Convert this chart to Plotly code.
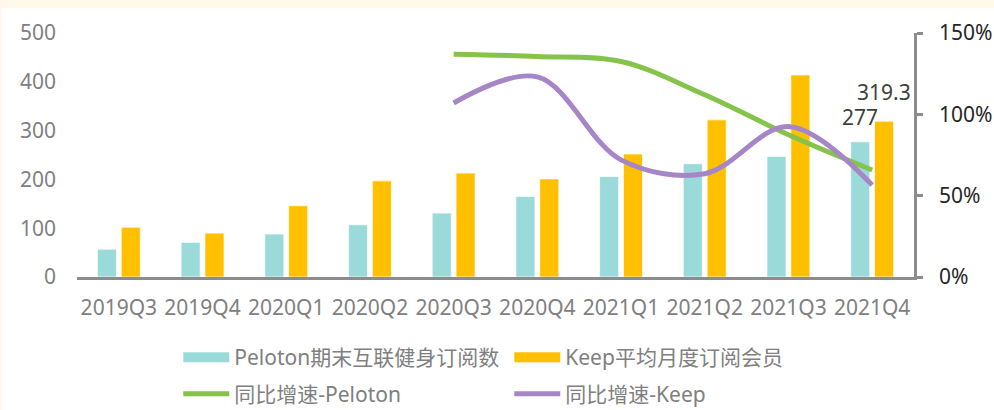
import plotly.graph_objects as go

# Quarterly categories
quarters = ["2019Q3", "2019Q4", "2020Q1", "2020Q2", "2020Q3",
            "2020Q4", "2021Q1", "2021Q2", "2021Q3", "2021Q4"]

# Subscriber counts (left axis)
peloton_subs = [57, 71, 88, 107, 131, 165, 206, 232, 247, 277]
keep_subs = [102, 90, 146, 197, 213, 201, 252, 322, 414, 319.3]

# Year-over-year growth (right axis, fraction)
peloton_yoy = [None, None, None, None, 1.37, 1.355, 1.325, 1.12, 0.875, 0.658]
keep_yoy = [None, None, None, None, 1.07, 1.23, 0.72, 0.635, 0.925, 0.565]

# Labelled values on the last quarter
labels = [("2021Q4", 277, -12, 10), ("2021Q4", 319.3, 12, 14)]

names = ["Peloton期末互联健身订阅数", "Keep平均月度订阅会员", "同比增速-Peloton", "同比增速-Keep"]
c_teal, c_gold, c_green, c_purple = "#9ADAD9", "#FFC000", "#86C34A", "#A686C7"

FONT = "Noto Sans, Noto Sans CJK SC, sans-serif"
GRAY = "#808080"
AXIS = "#8C8C8C"

fig = go.Figure()

fig.add_trace(go.Bar(x=quarters, y=peloton_subs, name=names[0], marker_color=c_teal,
                     marker_line=dict(width=1, color="rgba(255,255,255,0.7)"),
                     showlegend=False))
fig.add_trace(go.Bar(x=quarters, y=keep_subs, name=names[1], marker_color=c_gold,
                     marker_line=dict(width=1, color="rgba(255,255,255,0.7)"),
                     showlegend=False))

# Legend swatches for the bar series
fig.add_trace(go.Scatter(x=[None], y=[None], mode="lines", name=names[0],
                         line=dict(color=c_teal, width=13), legend="legend"))
fig.add_trace(go.Scatter(x=[None], y=[None], mode="lines", name=names[1],
                         line=dict(color=c_gold, width=13), legend="legend"))

fig.add_trace(go.Scatter(x=quarters, y=peloton_yoy, name=names[2], yaxis="y2",
                         mode="lines", line=dict(color=c_green, width=5, shape="spline", smoothing=1),
                         legend="legend2"))
fig.add_trace(go.Scatter(x=quarters, y=keep_yoy, name=names[3], yaxis="y2",
                         mode="lines", line=dict(color=c_purple, width=5, shape="spline", smoothing=1),
                         legend="legend2"))

for q, v, dx, dy in labels:
    fig.add_annotation(x=q, y=v, xref="x", yref="y", text=str(v), showarrow=False,
                       xshift=dx, yshift=dy, yanchor="bottom", borderpad=0,
                       font=dict(family=FONT, size=21, color="#404040"))

# White panel on the cream page
fig.add_shape(type="rect", xref="paper", yref="paper", layer="below",
              x0=-0.09, x1=1.2, y0=-0.6, y1=(277 - 8) / 244,
              fillcolor="white", line_width=0)

fig.update_layout(
    width=994, height=410,
    margin=dict(l=77, r=80, t=33, b=133, autoexpand=False),
    paper_bgcolor="#FFF8EB", plot_bgcolor="rgba(0,0,0,0)",
    font=dict(family=FONT, size=21, color=GRAY),
    barmode="group", bargap=0.43, bargroupgap=0.2,
    xaxis=dict(showline=True, linecolor=AXIS, linewidth=2.5, showgrid=False,
               ticks="", tickfont=dict(size=21, color=GRAY), ticklabelstandoff=10),
    yaxis=dict(range=[0, 500], dtick=100, showgrid=False, showline=False, zeroline=False,
               ticks="", tickfont=dict(size=21, color=GRAY), ticklabelstandoff=20),
    yaxis2=dict(overlaying="y", side="right", range=[0, 1.5], dtick=0.5, tickformat=".0%",
                showgrid=False, zeroline=False, showline=True, linecolor=AXIS, linewidth=2.5,
                ticks="outside", ticklen=6, tickwidth=2.5, tickcolor=AXIS,
                tickfont=dict(size=21, color="#262626"), ticklabelstandoff=12),
    legend=dict(orientation="h", x=0.121, y=-0.33, xanchor="left", yanchor="middle",
                entrywidth=270, itemwidth=46, font=dict(size=21, color=GRAY),
                bgcolor="rgba(0,0,0,0)"),
    legend2=dict(orientation="h", x=0.121, y=-0.48, xanchor="left", yanchor="middle",
                 entrywidth=270, itemwidth=46, font=dict(size=21, color=GRAY),
                 bgcolor="rgba(0,0,0,0)"),
)

fig.write_html("out.html")
